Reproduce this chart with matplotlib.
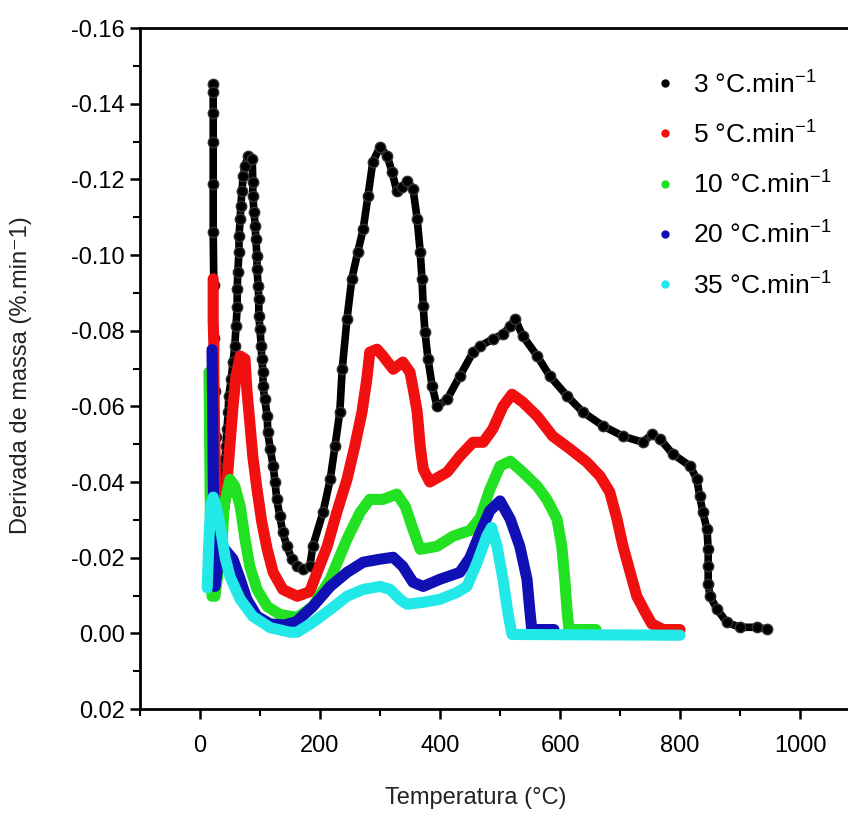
import matplotlib
matplotlib.use("Agg")
import matplotlib.pyplot as plt
from matplotlib.lines import Line2D
from matplotlib.ticker import MultipleLocator, FormatStrFormatter

plt.rcParams['font.family'] = ['Liberation Sans', 'DejaVu Sans']
plt.rcParams['mathtext.fontset'] = 'custom'
plt.rcParams['mathtext.rm'] = 'Liberation Sans'
plt.rcParams['axes.unicode_minus'] = False

# DTG data: temperature (C) and mass derivative (%/min)
t_3 = [22, 22, 22, 22, 22, 22, 23, 24, 25, 26, 28, 32, 35, 38, 42, 43, 45, 47, 48, 52, 55,
       58, 60, 62, 62, 63, 65, 65, 67, 68, 70, 72, 75, 80, 87, 88, 88, 90, 92, 93, 95, 95,
       97, 98, 98, 100, 102, 103, 105, 105, 108, 112, 113, 117, 122, 125, 128, 133, 138,
       145, 153, 162, 172, 183, 188, 205, 217, 225, 233, 237, 245, 253, 263, 272, 280, 288,
       300, 312, 320, 328, 337, 345, 355, 362, 367, 370, 372, 375, 380, 387, 395, 412, 433,
       455, 467, 488, 505, 517, 525, 538, 562, 583, 612, 638, 672, 705, 738, 753, 767, 788,
       817, 828, 833, 838, 845, 847, 847, 847, 850, 862, 878, 900, 928, 945]
d_3 = [-0.1452, -0.1431, -0.1376, -0.1300, -0.1188, -0.1061, -0.092, -0.078, -0.064, -0.052,
       -0.044, -0.041, -0.041, -0.0426, -0.0460, -0.0495, -0.0540, -0.0585, -0.0627, -0.0672,
       -0.0717, -0.0759, -0.0812, -0.0862, -0.0910, -0.0955, -0.1008, -0.1050, -0.1095, -0.1130,
       -0.1170, -0.1210, -0.1235, -0.1262, -0.1254, -0.1193, -0.1156, -0.1114, -0.1077, -0.1042,
       -0.0997, -0.0963, -0.0918, -0.0884, -0.0839, -0.0804, -0.0759, -0.0725, -0.0690, -0.0653,
       -0.0619, -0.0574, -0.0532, -0.0487, -0.0442, -0.0400, -0.0354, -0.0310, -0.0267, -0.0230,
       -0.0196, -0.0177, -0.0169, -0.0177, -0.0230, -0.0320, -0.0407, -0.0495, -0.0585, -0.0698,
       -0.0831, -0.0937, -0.1008, -0.1069, -0.1156, -0.1246, -0.1286, -0.1262, -0.1220, -0.1169,
       -0.1180, -0.1196, -0.1175, -0.1095, -0.1008, -0.0937, -0.0865, -0.0796, -0.0725, -0.0653,
       -0.0600, -0.0619, -0.0680, -0.0743, -0.0759, -0.0778, -0.0791, -0.0812, -0.0831, -0.0786,
       -0.0733, -0.0680, -0.0627, -0.0585, -0.0548, -0.0521, -0.0505, -0.0526, -0.0513, -0.0474,
       -0.0442, -0.0407, -0.0362, -0.0320, -0.0275, -0.0222, -0.0177, -0.0130, -0.0098, -0.0063,
       -0.0029, -0.0016, -0.0016, -0.0011]

t_5 = [22, 22, 22, 22, 23, 23, 24, 25, 26, 28, 35, 40, 45, 50, 55, 60, 67, 75, 78, 83, 88, 95,
       103, 112, 122, 138, 162, 183, 190, 212, 228, 245, 258, 270, 278, 283, 295, 305, 322, 338,
       350, 356, 362, 367, 372, 383, 412, 433, 455, 472, 488, 505, 520, 538, 562, 588, 617, 645,
       667, 683, 695, 705, 717, 728, 742, 753, 772, 800]
d_5 = [-0.0937, -0.0900, -0.0876, -0.0823, -0.0770, -0.0706, -0.0560, -0.0487, -0.0389, -0.031,
       -0.030, -0.033, -0.040, -0.050, -0.060, -0.068, -0.0733, -0.0725, -0.0646, -0.0558, -0.0468,
       -0.0381, -0.0294, -0.0222, -0.0161, -0.0116, -0.0098, -0.0110, -0.0140, -0.0230, -0.0320,
       -0.0407, -0.0495, -0.0585, -0.0672, -0.0743, -0.0751, -0.0733, -0.0698, -0.0717, -0.0690,
       -0.0640, -0.0585, -0.0495, -0.0434, -0.0400, -0.0426, -0.0468, -0.0505, -0.0505, -0.0540,
       -0.0600, -0.0632, -0.0611, -0.0574, -0.0521, -0.0487, -0.0452, -0.0415, -0.0373, -0.0302,
       -0.0230, -0.0161, -0.0098, -0.0056, -0.0025, -0.0010, -0.0010]

t_10 = [15, 16, 17, 18, 20, 25, 30, 37, 40, 50, 58, 67, 75, 83, 95, 112, 133, 162, 188, 217, 245,
        267, 283, 305, 328, 342, 355, 367, 395, 422, 450, 467, 483, 500, 517, 538, 562, 578, 595,
        603, 608, 612, 615, 660]
d_10 = [-0.0690, -0.0520, -0.0354, -0.0214, -0.0098, -0.0098, -0.0161, -0.0249, -0.0336, -0.0407,
        -0.0389, -0.0336, -0.0249, -0.0177, -0.0116, -0.0071, -0.0050, -0.0042, -0.0071, -0.0143,
        -0.0249, -0.0320, -0.0354, -0.0354, -0.0368, -0.0336, -0.0275, -0.0222, -0.0230, -0.0257,
        -0.0272, -0.0305, -0.0380, -0.0442, -0.0455, -0.0426, -0.0389, -0.0354, -0.0302, -0.0230,
        -0.0143, -0.0056, -0.0010, -0.0010]

t_20 = [20, 21, 22, 24, 25, 30, 37, 55, 67, 78, 95, 117, 140, 160, 188, 217, 245, 272, 300, 322,
        338, 355, 372, 400, 433, 450, 467, 483, 500, 517, 533, 545, 550, 553, 590]
d_20 = [-0.0750, -0.0627, -0.0426, -0.0161, -0.0124, -0.0180, -0.0230, -0.0196, -0.0143, -0.0090,
        -0.0045, -0.0025, -0.0022, -0.0030, -0.0071, -0.0124, -0.0161, -0.0188, -0.0196, -0.0201,
        -0.0177, -0.0135, -0.0124, -0.0143, -0.0161, -0.0200, -0.0266, -0.0324, -0.0350, -0.0302,
        -0.0230, -0.0143, -0.0056, -0.0010, -0.0010]

t_35 = [12, 15, 18, 22, 28, 35, 42, 50, 67, 88, 117, 150, 162, 188, 217, 245, 272, 300, 317, 333,
        345, 372, 400, 428, 445, 462, 478, 486, 495, 505, 513, 520, 800]
d_35 = [-0.0120, -0.0250, -0.0340, -0.0360, -0.0330, -0.0270, -0.0200, -0.0150, -0.0090, -0.0045,
        -0.0015, -0.0003, -0.0003, -0.0029, -0.0063, -0.0098, -0.0116, -0.0124, -0.0116, -0.0090,
        -0.0077, -0.0082, -0.0090, -0.0108, -0.0124, -0.0188, -0.0257, -0.0280, -0.0230, -0.0143,
        -0.0056, 0.0003, 0.0005]

labels = [r'3 °C.min$^{-1}$', r'5 °C.min$^{-1}$', r'10 °C.min$^{-1}$',
          r'20 °C.min$^{-1}$', r'35 °C.min$^{-1}$']
colors = ['#000000', '#f01010', '#22e022', '#1010b4', '#22e8e8']

fig = plt.figure(figsize=(8.48, 8.16), dpi=100)
ax = fig.add_axes([140 / 848, 107 / 816, 720 / 848, 681 / 816])

# black curve: chain of dots
ax.plot(t_3, d_3, '-', color=colors[0], lw=5.5, zorder=2)
ax.plot(t_3, d_3, 'o', color=colors[0], ms=7.5, mec='#333333', zorder=2)

series = [(t_5, d_5), (t_10, d_10), (t_20, d_20), (t_35, d_35)]
for i, (t, d) in enumerate(series):
    ax.plot(t, d, '-', color=colors[i + 1], lw=8, solid_capstyle='round',
            solid_joinstyle='round', zorder=3 + i)

ax.set_xlim(-100, 1100)
ax.set_ylim(0.02, -0.16)
ax.xaxis.set_major_locator(MultipleLocator(200))
ax.xaxis.set_minor_locator(MultipleLocator(100))
ax.yaxis.set_major_locator(MultipleLocator(0.02))
ax.yaxis.set_minor_locator(MultipleLocator(0.01))
ax.yaxis.set_major_formatter(FormatStrFormatter('%.2f'))
ax.set_xticks([0, 200, 400, 600, 800, 1000])

ax.tick_params(which='major', direction='out', length=7, width=1.8, labelsize=17,
               top=False, right=False, pad=4)
ax.tick_params(axis='x', which='major', pad=12)
ax.tick_params(which='minor', direction='out', length=5, width=1.5, top=False, right=False)
ax.spines['right'].set_visible(False)
for s in ['left', 'bottom', 'top']:
    ax.spines[s].set_linewidth(2)

ax.set_xlabel('Temperatura (°C)', fontsize=17, color='#222222')
ax.xaxis.set_label_coords(0.467, -0.115)
ax.set_ylabel('Derivada de massa (%.min⁻1)', fontsize=17, color='#222222')
ax.yaxis.set_label_coords(-0.15, 0.49)

handles = [Line2D([], [], ls='none', marker='o', ms=5, color=c) for c in colors]
leg = ax.legend(handles, labels, loc='upper left', bbox_to_anchor=(0.704, 0.955),
                frameon=False, fontsize=19, handlelength=0.6, handletextpad=0.75,
                labelspacing=0.85, borderaxespad=0)

fig.savefig('out.png', dpi=100)
